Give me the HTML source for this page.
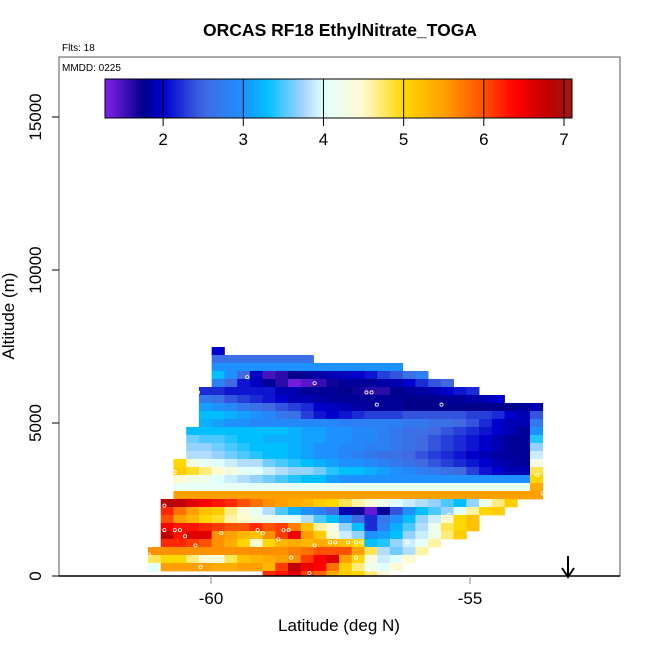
<!DOCTYPE html>
<html><head><meta charset="utf-8"><style>
body{margin:0;background:#fff;}
svg text{font-family:"Liberation Sans",sans-serif;}
</style></head><body>
<svg id="chart" width="650" height="650" viewBox="0 0 650 650">
<rect x="0" y="0" width="650" height="650" fill="#fff"/>
<text x="340" y="36" font-size="17.5" font-weight="bold" text-anchor="middle">ORCAS RF18 EthylNitrate_TOGA</text>
<text x="62" y="51" font-size="10">Flts: 18</text>
<defs><clipPath id="pc"><rect x="59" y="57" width="561" height="519"/></clipPath>
<linearGradient id="cbg" x1="0" x2="1" y1="0" y2="0"></linearGradient></defs>
<g id="cells" clip-path="url(#pc)"></g>
<g id="pts" clip-path="url(#pc)"></g>
<rect x="59" y="57" width="561" height="519" fill="none" stroke="#555" stroke-width="1"/>
<text x="62" y="71" font-size="10">MMDD: 0225</text>
<g id="axes"></g>
<rect x="105" y="79" width="467" height="39" fill="url(#cbg)" stroke="#000" stroke-width="1"/>
<g id="cbticks"></g>
<g><line x1="568" y1="556" x2="568" y2="576" stroke="#000" stroke-width="2"/><path d="M562,568 L568,577 L574,568" fill="none" stroke="#000" stroke-width="2"/></g>
<text x="339" y="631" font-size="17" text-anchor="middle">Latitude (deg N)</text>
<text x="0" y="0" font-size="17" text-anchor="middle" transform="translate(14,316) rotate(-90)">Altitude (m)</text>
</svg>
<script>
const xTicks=[-60,-55];
const yTicks=[0,5000,10000,15000];
const cbTicks=[2,3,4,5,6,7];
const rowStart=[5,5,5,5,5,4,4,4,4,4,3,3,3,3,2,2,2,2,2,1,1,1,1,1,1,0,0,0,9];
const rowValues=[
[2.0],
[2.6,2.6,2.6,2.6,2.6,2.6,2.6,2.6],
[3.0,3.0,3.0,3.0,3.0,3.0,3.0,3.0,3.0,3.0,3.0,3.0,3.0,3.0,3.0],
[3.3,3.0,2.5,1.95,1.5,1.6,1.75,1.8,1.85,1.9,1.95,2.0,2.1,2.3,2.4,2.6,2.8],
[2.8,2.5,2.1,1.95,1.8,1.6,1.35,1.45,1.55,1.7,1.8,1.8,1.8,1.85,1.9,2.0,2.2,2.4,2.5],
[2.2,2.2,2.1,2.1,2.1,2.1,1.9,1.9,1.8,1.8,1.8,1.75,1.7,1.6,1.6,1.75,1.8,1.85,1.9,2.0,2.1,2.2],
[2.7,2.6,2.4,2.3,2.2,2.1,2.0,1.9,1.9,1.85,1.8,1.8,1.8,1.8,1.8,1.8,1.75,1.75,1.75,1.8,1.8,1.85,1.9,2.0],
[3.1,3.0,2.9,2.7,2.6,2.5,2.4,2.3,2.2,2.0,1.95,1.9,1.85,1.8,1.8,1.8,1.75,1.75,1.75,1.75,1.75,1.75,1.75,1.75,1.75,1.8,1.9],
[3.3,3.3,3.2,3.1,3.0,2.9,2.7,2.6,2.3,2.1,2.0,2.1,2.2,2.3,2.3,2.3,2.4,2.4,2.4,2.4,2.4,2.3,2.3,2.2,2.0,1.9,2.4],
[3.2,3.1,3.0,3.0,2.9,2.9,2.9,2.9,2.9,2.9,2.9,2.8,2.8,2.8,2.8,2.8,2.7,2.7,2.6,2.6,2.5,2.4,2.2,2.0,1.9,1.9,2.7],
[3.3,3.3,3.3,3.3,3.3,3.3,3.3,3.3,3.2,3.1,3.1,3.0,3.0,2.9,2.9,2.8,2.7,2.6,2.6,2.5,2.4,2.3,2.2,2.1,2.0,1.9,1.8,3.0],
[3.6,3.5,3.5,3.4,3.3,3.3,3.2,3.2,3.2,3.1,3.1,3.0,3.0,2.9,2.9,2.8,2.7,2.6,2.5,2.4,2.3,2.2,2.1,2.0,1.9,1.8,1.8,3.4],
[3.7,3.7,3.6,3.5,3.4,3.3,3.3,3.3,3.2,3.1,3.0,3.0,2.9,2.9,2.8,2.8,2.7,2.6,2.5,2.4,2.3,2.2,2.1,2.0,1.9,1.8,1.8,3.7],
[3.8,3.8,3.7,3.6,3.5,3.4,3.3,3.3,3.2,3.1,3.0,3.0,2.9,2.8,2.7,2.6,2.6,2.5,2.4,2.3,2.2,2.1,2.0,1.9,1.85,1.8,1.8,3.9],
[5.0,4.3,4.1,4.0,3.9,3.8,3.8,3.6,3.5,3.4,3.3,3.2,3.1,3.0,3.0,2.9,2.8,2.7,2.6,2.5,2.4,2.3,2.2,2.1,2.0,1.9,1.85,1.8,4.3],
[5.1,4.9,4.7,4.5,4.3,4.1,4.0,3.9,3.8,3.7,3.7,3.6,3.4,3.3,3.3,3.2,3.1,3.0,2.9,2.8,2.7,2.6,2.5,2.3,2.1,2.0,1.9,1.9,4.8],
[4.5,4.3,4.2,4.0,3.9,3.8,3.7,3.6,3.5,3.4,3.3,3.3,3.1,3.0,3.0,3.0,3.0,3.0,3.0,3.0,3.0,3.0,3.0,3.0,3.0,3.0,3.0,3.0,5.0],
[4.1,4.1,4.1,4.1,4.1,4.1,4.1,4.1,4.1,4.1,4.1,4.1,4.1,4.1,4.1,4.1,4.1,4.1,4.1,4.1,4.1,4.1,4.1,4.1,4.1,4.1,4.1,4.1,5.4],
[5.5,5.5,5.5,5.5,5.5,5.5,5.5,5.5,5.5,5.5,5.5,5.5,5.5,5.5,5.5,5.5,5.5,5.5,5.5,5.5,5.5,5.5,5.5,5.5,5.5,5.5,5.5,5.5,5.5],
[6.9,6.8,6.6,6.4,6.3,6.2,6.0,5.8,5.6,5.5,5.4,5.3,5.1,5.0,4.8,4.6,4.4,4.2,4.0,3.9,3.8,3.7,3.5,3.3,3.7,4.2,4.7,5.1],
[6.2,5.8,5.5,5.2,5.1,4.7,4.4,4.1,3.8,3.5,3.2,3.0,2.8,2.5,1.9,1.7,1.4,1.8,2.4,3.0,3.3,3.5,3.7,4.1,4.6,5.0,5.1],
[6.0,5.5,5.3,5.0,4.9,4.6,4.5,4.3,4.2,4.1,4.0,3.8,3.5,3.3,3.0,2.5,2.2,2.7,3.0,3.3,3.7,3.9,4.5,5.0,5.2],
[6.4,6.3,6.3,6.2,6.1,6.0,6.0,6.2,6.0,6.1,5.7,5.2,4.6,4.3,3.7,3.3,2.2,2.8,3.2,3.5,3.8,4.2,4.8,5.0,5.2],
[6.8,6.3,6.6,6.6,5.6,5.5,5.3,5.2,5.6,6.1,6.5,5.5,5.1,4.4,3.9,3.7,3.0,3.1,3.3,3.7,3.9,4.2,4.7,5.1],
[6.2,6.2,6.1,6.0,5.6,5.4,5.0,4.5,5.0,5.3,5.4,5.3,5.4,5.3,5.2,5.0,3.3,3.4,3.7,3.9,4.1,4.6],
[5.6,5.6,5.6,5.6,5.6,5.6,5.6,5.6,5.6,5.6,5.6,5.7,5.8,6.0,6.0,6.0,5.5,4.8,3.8,3.6,3.8,4.6],
[4.8,5.0,5.0,4.7,4.5,4.4,4.8,5.2,5.3,5.4,5.5,5.6,6.1,6.4,6.6,5.5,5.0,4.4,3.9,4.0,4.5],
[4.0,5.5,5.5,5.5,5.5,5.4,5.4,5.5,5.5,5.3,6.1,6.8,6.5,6.4,5.8,5.1,4.7,4.2,4.0,4.5],
[6.2,6.3,6.6,6.1,5.9,5.4,5.1,5.0,4.7,4.4]
];
const trackLat=[-60.05,-60.2,-60.25,-59.3,-58.0,-57.0,-56.9,-56.8,-55.55,-53.5,-60.4,-60.55,-60.6,-60.7,-60.9,-61.05,-61.1,-61.15,-61.2,-60.9,-60.7,-60.6,-60.5,-60.3,-59.8,-59.0,-58.7,-58.6,-58.5,-58.0,-57.7,-57.6,-57.35,-57.2,-57.1,-56.95,-56.8,-56.5,-56.3,-53.7,-53.6,-55.4,-59.1,-58.45,-58.1,-57.2,-56.2,-61.35,-61.3,-60.2];
const trackAlt=[7300,6600,6000,6500,6300,6000,6000,5600,5600,5600,5500,4900,4300,3400,2300,1900,1500,1000,700,1500,1500,1500,1300,1000,1400,1400,1200,1500,1500,1000,1100,1100,1100,600,1100,200,200,200,500,3300,2700,2000,1500,600,100,1100,1100,300,400,300];
const cmapV=[1.3,1.75,2.0,2.5,3.0,3.3,3.75,4.0,4.5,5.0,5.5,6.0,6.4,6.8,7.1];
const cmapC=["#8020e8","#00008b","#0000cd","#4169e1","#1e90ff","#00bfff","#a8d4ff","#e0ffff","#fffad0","#ffd700","#ffa000","#ff5000","#ff0000","#c00000","#a01818"];
const NS="http://www.w3.org/2000/svg";
const X0=59,X1=620,Y0=57,Y1=576;
const xs=lat=>211+(lat+60)*51.8;
const ys=alt=>576-alt*0.0306;
const colStep=0.2458,latFirst=-61.216,altTop0=7484,altStep=261.4;
function hex(c){return [1,3,5].map(i=>parseInt(c.substr(i,2),16));}
function color(v){
 if(v<=cmapV[0])return cmapC[0];
 for(let i=1;i<cmapV.length;i++){ if(v<=cmapV[i]){const t=(v-cmapV[i-1])/(cmapV[i]-cmapV[i-1]);const a=hex(cmapC[i-1]),b=hex(cmapC[i]);return "rgb("+a.map((x,k)=>Math.round(x+(b[k]-x)*t)).join(",")+")";}}
 return cmapC[cmapC.length-1];}
const cells=document.getElementById('cells');
rowValues.forEach((row,r)=>{
 const aTop=altTop0-r*altStep,aBot=aTop-altStep;
 row.forEach((v,j)=>{
  const c=rowStart[r]+j;
  const l=latFirst+c*colStep;
  const e=document.createElementNS(NS,'rect');
  
  
  const x=xs(l),x2=xs(l+colStep);
  e.setAttribute('x',x);e.setAttribute('y',ys(aTop));
  e.setAttribute('width',x2-x+0.4);e.setAttribute('height',ys(aBot)-ys(aTop)+0.4);
  e.setAttribute('fill',color(v));
  cells.appendChild(e);});});
const pts=document.getElementById('pts');
trackLat.forEach((la,i)=>{
 const e=document.createElementNS(NS,'circle');
 
 
 e.setAttribute('cx',xs(la));e.setAttribute('cy',ys(trackAlt[i]));e.setAttribute('r',1.6);
 e.setAttribute('fill','none');e.setAttribute('stroke','#fff');e.setAttribute('stroke-width','0.8');
 pts.appendChild(e);});
const ax=document.getElementById('axes');
function add(tag,attrs,name,txt){const e=document.createElementNS(NS,tag);for(const k in attrs)e.setAttribute(k,attrs[k]);
 
 
 if(txt!==undefined)e.textContent=txt;ax.appendChild(e);return e;}
add('line',{x1:X0,y1:Y1,x2:X1,y2:Y1,stroke:'#000','stroke-width':1.5},'x-axis-line');
xTicks.forEach(t=>{add('line',{x1:xs(t),y1:Y1,x2:xs(t),y2:Y1+8,stroke:'#888'},'x-tick');
 add('text',{x:xs(t),y:604,'font-size':17,'text-anchor':'middle'},'x-tick-label',String(t));});
yTicks.forEach(t=>{add('line',{x1:X0,y1:ys(t),x2:X0-7,y2:ys(t),stroke:'#000'},'y-tick');
 add('text',{x:0,y:0,'font-size':17,'text-anchor':'middle',transform:'translate(41,'+ys(t)+') rotate(-90)'},'y-tick-label',String(t));});
const g=document.getElementById('cbg');
const cbMin=1.275,cbMax=7.1;
for(let i=0;i<=60;i++){const v=cbMin+(cbMax-cbMin)*i/60;const s=document.createElementNS(NS,'stop');s.setAttribute('offset',i/60);s.setAttribute('stop-color',color(v));g.appendChild(s);}
const cbt=document.getElementById('cbticks');
const cbx=v=>105+(v-cbMin)/(cbMax-cbMin)*467;
cbTicks.forEach(t=>{
 const l=document.createElementNS(NS,'line');
 
 
 l.setAttribute('x1',cbx(t));l.setAttribute('x2',cbx(t));l.setAttribute('y1',79);l.setAttribute('y2',126);l.setAttribute('stroke','#000');
 cbt.appendChild(l);
 const tx=document.createElementNS(NS,'text');
 
 
 tx.setAttribute('x',cbx(t));tx.setAttribute('y',145);tx.setAttribute('font-size',17);tx.setAttribute('text-anchor','middle');
 tx.textContent=String(t);cbt.appendChild(tx);});
</script>
</body></html>
